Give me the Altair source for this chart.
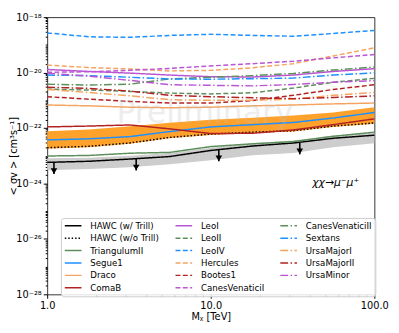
import altair as alt
import pandas as pd

# Dark-matter mass grid [TeV]
masses = [1.0, 1.8, 3.2, 5.6, 10.0, 18.0, 32.0, 56.0, 100.0]

# log10(<sigma v> / cm^3 s^-1)
hawc_w = [-23.24, -23.20, -23.12, -23.03, -22.81, -22.65, -22.54, -22.37, -22.26]
hawc_wo = [-22.71, -22.66, -22.54, -22.34, -22.22, -22.15, -22.10, -21.93, -21.82]
triangulum = [-23.01, -22.99, -22.91, -22.88, -22.67, -22.57, -22.49, -22.30, -22.15]
segue1 = [-22.43, -22.39, -22.31, -22.13, -21.96, -21.88, -21.80, -21.64, -21.44]
draco = [-21.17, -21.20, -21.25, -21.27, -21.25, -21.20, -21.17, -21.13, -21.10]
comab = [-21.96, -21.93, -21.89, -22.03, -22.20, -22.19, -22.07, -21.88, -21.67]
leoi = [-19.89, -19.96, -20.02, -20.09, -20.15, -20.16, -20.09, -19.96, -19.86]
leoii = [-20.60, -20.63, -20.68, -20.74, -20.77, -20.73, -20.56, -20.35, -20.21]
leoiv = [-18.57, -18.71, -18.73, -18.66, -18.62, -18.66, -18.69, -18.59, -18.48]
hercules = [-19.73, -19.82, -19.87, -19.94, -19.92, -19.83, -19.68, -19.40, -19.11]
bootes1 = [-20.87, -20.96, -21.04, -21.10, -21.10, -21.01, -20.82, -20.61, -20.44]
cvi = [-19.99, -19.97, -19.92, -19.85, -19.76, -19.68, -19.59, -19.47, -19.35]
cvii = [-20.42, -20.45, -20.42, -20.23, -20.17, -20.11, -20.03, -19.91, -19.80]
sextans = [-20.09, -20.11, -20.17, -20.23, -20.24, -20.22, -20.20, -20.09, -20.01]
umai = [-20.61, -20.72, -20.84, -20.98, -21.00, -21.00, -20.96, -20.82, -20.72]
umaii = [-20.53, -20.57, -20.67, -20.82, -20.87, -20.91, -20.94, -20.90, -20.84]
umi = [-20.02, -20.13, -20.28, -20.44, -20.46, -20.48, -20.43, -20.35, -20.29]

# bands
band_hi = [-22.12, -22.05, -21.94, -21.81, -21.70, -21.63, -21.55, -21.44, -21.25]
band_lo = [-22.75, -22.69, -22.57, -22.37, -22.25, -22.18, -22.13, -21.96, -21.85]
gray_hi = [-23.09, -23.07, -23.00, -22.90, -22.71, -22.55, -22.45, -22.27, -22.17]
gray_lo = [-23.52, -23.48, -23.42, -23.31, -23.16, -22.98, -22.90, -22.69, -22.55]

# upper-limit arrows
arrow_mass = [1.1, 3.5, 11.2, 35.0]
arrow_top = [-23.24, -23.11, -22.78, -22.53]
arrow_bot = [-23.66, -23.53, -23.20, -22.95]

series = {
    "HAWC (w/ Trill)": hawc_w, "HAWC (w/o Trill)": hawc_wo, "TriangulumII": triangulum,
    "Segue1": segue1, "Draco": draco, "ComaB": comab,
    "LeoI": leoi, "LeoII": leoii, "LeoIV": leoiv, "Hercules": hercules,
    "Bootes1": bootes1, "CanesVenaticiI": cvi,
    "CanesVenaticiII": cvii, "Sextans": sextans, "UrsaMajorI": umai,
    "UrsaMajorII": umaii, "UrsaMinor": umi,
}

GREEN, BLUE, ORANGE, RED, PURPLE = "#5c8f5c", "#1e90ff", "#f4a460", "#b22222", "#ba55d3"
SOLID, DASH, DASHDOT, DOT = [1, 0], [5, 2.5], [8, 2.5, 1.5, 2.5], [1.5, 2]
style = {
    "HAWC (w/ Trill)": ("black", SOLID), "HAWC (w/o Trill)": ("black", DOT),
    "TriangulumII": (GREEN, SOLID), "Segue1": (BLUE, SOLID), "Draco": (ORANGE, SOLID),
    "ComaB": (RED, SOLID), "LeoI": (PURPLE, SOLID), "LeoII": (GREEN, DASH),
    "LeoIV": (BLUE, DASH), "Hercules": (ORANGE, DASH), "Bootes1": (RED, DASH),
    "CanesVenaticiI": (PURPLE, DASH), "CanesVenaticiII": (GREEN, DASHDOT),
    "Sextans": (BLUE, DASHDOT), "UrsaMajorI": (ORANGE, DASHDOT),
    "UrsaMajorII": (RED, DASHDOT), "UrsaMinor": (PURPLE, DASHDOT),
}
legend_order = list(series.keys())

lines_df = pd.DataFrame(
    [{"name": n, "mass": m, "value": 10 ** v} for n, vals in series.items() for m, v in zip(masses, vals)]
)
band_df = pd.DataFrame({"mass": masses, "hi": [10 ** v for v in band_hi], "lo": [10 ** v for v in band_lo]})
gray_df = pd.DataFrame({"mass": masses, "hi": [10 ** v for v in gray_hi], "lo": [10 ** v for v in gray_lo]})
arrow_df = pd.DataFrame({"mass": arrow_mass, "hi": [10 ** v for v in arrow_top], "lo": [10 ** v for v in arrow_bot]})
annot_df = pd.DataFrame({"mass": [58.0], "value": [1e-24], "label": ["χχ→μ⁻μ⁺"]})
wm_df = pd.DataFrame({"mass": [9.2], "value": [10 ** -21.46], "label": ["Preliminary"]})

# axes
y_major = list(range(-28, -17, 2))
y_vals = [s * 10.0 ** e for e in range(-28, -18) for s in range(1, 10)] + [1e-18]
sup = str.maketrans("-0123456789", "⁻⁰¹²³⁴⁵⁶⁷⁸⁹")
L = "(log(datum.value)/LN10)"
near = f"abs({L} - round({L})) < 0.01"
y_label_expr = "".join(
    f"({near} && round({L}) == {e}) ? '10{str(e).translate(sup)}' : " for e in y_major
) + "''"
y_major_test = f"{near} && (round({L}) % 2 == 0)"

x_vals = [1, 2, 3, 4, 5, 6, 7, 8, 9, 10, 20, 30, 40, 50, 60, 70, 80, 90, 100]
x_label_expr = "datum.value == 1 ? '1.0' : datum.value == 10 ? '10.0' : datum.value == 100 ? '100.0' : ''"
x_major_test = near

xaxis = alt.Axis(values=x_vals, labelExpr=x_label_expr,
                 tickSize={"condition": {"test": x_major_test, "value": 4}, "value": 2},
                 labelPadding=2, titlePadding=2, labelFlush=False, labelOverlap=False)
yaxis = alt.Axis(values=y_vals, labelExpr=y_label_expr,
                 tickSize={"condition": {"test": y_major_test, "value": 4}, "value": 2},
                 labelPadding=2, titleX=-34.5, titleBaseline="middle",
                 labelOverlap=False, labelFlush=False)

xscale = alt.Scale(type="log", domain=[1, 100], nice=False)
yscale = alt.Scale(type="log", domain=[1e-28, 1e-18], nice=False)
XT = "Mᵪ [TeV]"
YT = "< σv > [cm³s⁻¹]"


def X(f):
    return alt.X(f"{f}:Q", scale=xscale, axis=xaxis, title=XT)


def Y(f):
    return alt.Y(f"{f}:Q", scale=yscale, axis=yaxis, title=YT)


gray = alt.Chart(gray_df).mark_area(color="#cdcdcd").encode(x=X("mass"), y=Y("hi"), y2="lo")
band = alt.Chart(band_df).mark_area(color="#ffa22c").encode(x=X("mass"), y=Y("hi"), y2="lo")

leg = alt.Legend(
    title=None, orient="none", legendX=14, legendY=205, columns=3,
    symbolType="stroke", symbolSize=289, symbolStrokeWidth=1.5, labelOffset=8,
    labelFont="DejaVu Sans", labelFontSize=8.8, labelColor="black",
    clipHeight=10, rowPadding=2.66, columnPadding=15, padding=3,
    fillColor="rgba(255,255,255,0.85)", strokeColor="#cccccc", cornerRadius=3,
)
lines = alt.Chart(lines_df).mark_line(strokeWidth=1.5).encode(
    x=X("mass"), y=Y("value"),
    color=alt.Color("name:N", scale=alt.Scale(domain=legend_order, range=[style[n][0] for n in legend_order]), legend=leg),
    strokeDash=alt.StrokeDash("name:N", scale=alt.Scale(domain=legend_order, range=[style[n][1] for n in legend_order]), legend=leg),
)

arrow_line = alt.Chart(arrow_df).mark_rule(color="black", strokeWidth=1.6).encode(x=X("mass"), y=Y("hi"), y2="lo")
arrow_head = alt.Chart(arrow_df).mark_point(shape="triangle-down", filled=True, color="black", size=45, opacity=1, yOffset=-3).encode(x=X("mass"), y=Y("lo"))

annot = alt.Chart(annot_df).mark_text(font="DejaVu Sans", fontSize=11, fontStyle="italic", color="black").encode(
    x=X("mass"), y=Y("value"), text="label:N")
wm = alt.Chart(wm_df).mark_text(font="DejaVu Sans", fontSize=32, color="#bbbbbb", opacity=0.25).encode(
    x=X("mass"), y=Y("value"), text="label:N")

chart = alt.layer(gray, band, lines, arrow_line, arrow_head, annot, wm).properties(
    width=334, height=283,
    autosize=alt.AutoSizeParams(type="none"),
    padding={"left": 40, "top": 6, "right": 17, "bottom": 28},
).configure_view(stroke="#333333", strokeWidth=1).configure_axis(
    labelFont="DejaVu Sans", titleFont="DejaVu Sans", labelFontSize=10, titleFontSize=10,
    titleFontWeight="normal", labelColor="black", titleColor="black", tickColor="black",
    domain=False, grid=False,
)

chart.save("out.html", embed_options={"renderer": "svg", "actions": False})
